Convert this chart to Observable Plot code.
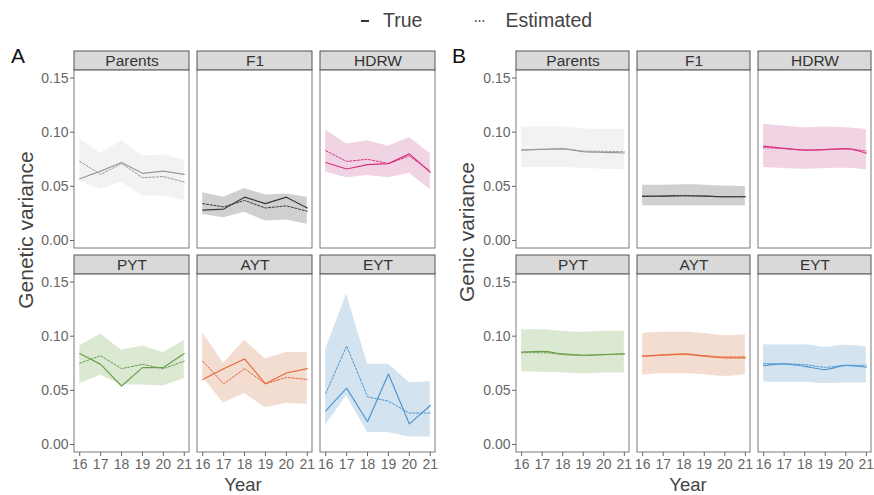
<!DOCTYPE html>
<html><head><meta charset="utf-8">
<script src="https://cdn.jsdelivr.net/npm/d3@7"></script>
<script src="https://cdn.jsdelivr.net/npm/@observablehq/plot@0.6"></script>
<style>
body{margin:0;width:874px;height:495px;overflow:hidden;background:#fff;font-family:"Liberation Sans",Arial,Helvetica,sans-serif;position:relative}
.abs{position:absolute;white-space:nowrap;line-height:1;z-index:2}
.chart{position:absolute;top:40px;z-index:1}
</style></head><body>
<div id="A" class="chart" style="left:0px"></div>
<div id="B" class="chart" style="left:440px"></div>
<div class="abs" style="left:358px;top:11px;font-size:19.5px;color:#444;display:flex;align-items:center">
  <svg width="12" height="6"><line x1="3" x2="11" y1="3" y2="3" stroke="#333" stroke-width="2"/></svg>
  <span style="margin-left:13px">True</span>
  <svg width="14" height="6" style="margin-left:52px"><line x1="1" x2="12" y1="3" y2="3" stroke="#333" stroke-width="1.3" stroke-dasharray="1.6,2.2"/></svg>
  <span style="margin-left:17px">Estimated</span>
</div>
<div class="abs" style="left:11px;top:45px;font-size:21px;color:#111">A</div>
<div class="abs" style="left:452px;top:45px;font-size:21px;color:#111">B</div>
<div class="abs" style="left:25px;top:230px;font-size:21px;color:#444;transform:translate(-50%,-50%) rotate(-90deg)">Genetic variance</div>
<div class="abs" style="left:466px;top:232px;font-size:21px;color:#444;transform:translate(-50%,-50%) rotate(-90deg)">Genic variance</div>
<div class="abs" style="left:243px;top:485px;font-size:18.5px;color:#444;transform:translate(-50%,-50%)">Year</div>
<div class="abs" style="left:688px;top:485px;font-size:18.5px;color:#444;transform:translate(-50%,-50%)">Year</div>
<script>
const years = [16, 17, 18, 19, 20, 21];
const stages = ["Parents", "F1", "HDRW", "PYT", "AYT", "EYT"];
const lineColors = ["#9a9a9a", "#3a3a3a", "#d8327f", "#6b9f4b", "#e8693a", "#4f97d3"];
const bandColors = ["#f2f2f2", "#d0d0d0", "#f1d4e4", "#dbe9d2", "#f3dcd0", "#d3e3ef"];
const yTicks = [0, 0.05, 0.10, 0.15];

// Panel A: genetic variance
const geneticTrue = [
  [0.057, 0.064, 0.072, 0.062, 0.064, 0.061],
  [0.028, 0.029, 0.040, 0.034, 0.040, 0.030],
  [0.072, 0.066, 0.070, 0.071, 0.080, 0.063],
  [0.084, 0.074, 0.054, 0.071, 0.071, 0.084],
  [0.060, 0.070, 0.079, 0.056, 0.066, 0.070],
  [0.031, 0.052, 0.021, 0.065, 0.019, 0.036]
];
const geneticEst = [
  [0.073, 0.061, 0.071, 0.058, 0.059, 0.054],
  [0.034, 0.031, 0.037, 0.030, 0.032, 0.027],
  [0.083, 0.073, 0.075, 0.071, 0.078, 0.064],
  [0.075, 0.082, 0.070, 0.074, 0.070, 0.077],
  [0.077, 0.056, 0.070, 0.056, 0.062, 0.060],
  [0.047, 0.091, 0.044, 0.040, 0.029, 0.029]
];
const geneticLo = [
  [0.055, 0.047, 0.054, 0.041, 0.041, 0.037],
  [0.024, 0.021, 0.026, 0.018, 0.019, 0.015],
  [0.063, 0.058, 0.060, 0.058, 0.062, 0.047],
  [0.056, 0.064, 0.055, 0.055, 0.054, 0.061],
  [0.062, 0.038, 0.047, 0.034, 0.038, 0.037],
  [0.018, 0.045, 0.011, 0.011, 0.007, 0.007]
];
const geneticHi = [
  [0.094, 0.080, 0.092, 0.078, 0.079, 0.074],
  [0.044, 0.040, 0.048, 0.042, 0.043, 0.040],
  [0.102, 0.089, 0.092, 0.087, 0.095, 0.080],
  [0.091, 0.102, 0.087, 0.091, 0.085, 0.096],
  [0.103, 0.075, 0.096, 0.079, 0.085, 0.085],
  [0.088, 0.139, 0.074, 0.074, 0.057, 0.058]
];

// Panel B: genic variance
const genicTrue = [
  [0.0835, 0.0842, 0.0848, 0.0820, 0.0814, 0.0808],
  [0.0407, 0.0410, 0.0413, 0.0410, 0.0404, 0.0404],
  [0.0872, 0.0851, 0.0835, 0.0839, 0.0848, 0.0805],
  [0.0854, 0.0860, 0.0836, 0.0824, 0.0830, 0.0836],
  [0.0815, 0.0827, 0.0836, 0.0815, 0.0800, 0.0800],
  [0.0728, 0.0744, 0.0722, 0.0692, 0.0731, 0.0713]
];
const genicEst = [
  [0.0835, 0.0842, 0.0842, 0.0826, 0.0823, 0.0820],
  [0.0410, 0.0410, 0.0413, 0.0410, 0.0404, 0.0404],
  [0.0857, 0.0848, 0.0835, 0.0839, 0.0845, 0.0826],
  [0.0848, 0.0848, 0.0830, 0.0824, 0.0830, 0.0836],
  [0.0815, 0.0824, 0.0830, 0.0821, 0.0809, 0.0809],
  [0.0747, 0.0744, 0.0737, 0.0713, 0.0731, 0.0731]
];
const genicLo = [
  [0.0673, 0.0673, 0.0673, 0.0664, 0.0658, 0.0652],
  [0.0321, 0.0321, 0.0321, 0.0321, 0.0321, 0.0321],
  [0.0673, 0.0664, 0.0658, 0.0664, 0.0667, 0.0652],
  [0.0670, 0.0667, 0.0660, 0.0652, 0.0660, 0.0660],
  [0.0639, 0.0652, 0.0652, 0.0645, 0.0630, 0.0645],
  [0.0578, 0.0575, 0.0575, 0.0562, 0.0568, 0.0568]
];
const genicHi = [
  [0.1050, 0.1050, 0.1047, 0.1030, 0.1028, 0.1025],
  [0.0511, 0.0511, 0.0514, 0.0511, 0.0502, 0.0499],
  [0.1071, 0.1056, 0.1040, 0.1047, 0.1040, 0.1025],
  [0.1060, 0.1060, 0.1045, 0.1036, 0.1045, 0.1045],
  [0.1024, 0.1036, 0.1036, 0.1024, 0.1005, 0.1014],
  [0.0922, 0.0919, 0.0922, 0.0898, 0.0916, 0.0900]
];

const xDomain = [15.75, 21.25];
const yMin = -0.0074, yPanelTop = 0.1571, yStripTop = 0.1745;
const font = '"Liberation Sans", Arial, Helvetica, sans-serif';

const panels = stages.map((s, i) => ({stage: s, idx: i, col: i % 3, row: Math.floor(i / 3)}));

function rowsFor(tr, es, lo, hi) {
  const out = [];
  stages.forEach((s, i) => years.forEach((y, j) => out.push({
    stage: s, idx: i, col: i % 3, row: Math.floor(i / 3), year: y,
    tru: tr[i][j], est: es[i][j], lo: lo[i][j], hi: hi[i][j]
  })));
  return out;
}

function chart(rows, opts) {
  const marks = [];
  stages.forEach((s, i) => {
    const d = rows.filter(r => r.idx === i);
    marks.push(Plot.areaY(d, {x: "year", y1: "lo", y2: "hi", fx: "col", fy: "row", fill: bandColors[i], curve: opts.curve}));
  });
  stages.forEach((s, i) => {
    const d = rows.filter(r => r.idx === i);
    marks.push(Plot.lineY(d, {x: "year", y: "est", fx: "col", fy: "row", stroke: lineColors[i], strokeWidth: 1, strokeDasharray: "2.2,1.6", curve: opts.curve}));
    marks.push(Plot.lineY(d, {x: "year", y: "tru", fx: "col", fy: "row", stroke: lineColors[i], strokeWidth: 1.2, curve: opts.curve}));
  });
  marks.push(Plot.rect(panels, {fx: "col", fy: "row", x1: () => xDomain[0], x2: () => xDomain[1], y1: () => yMin, y2: () => yPanelTop, fill: "none", stroke: "#7a7a7a", strokeWidth: 1}));
  marks.push(Plot.rect(panels, {fx: "col", fy: "row", x1: () => xDomain[0], x2: () => xDomain[1], y1: () => yPanelTop, y2: () => yStripTop, fill: "#d9d9d9", stroke: "#555", strokeWidth: 1}));
  marks.push(Plot.text(panels, {fx: "col", fy: "row", x: () => (xDomain[0] + xDomain[1]) / 2, y: () => (yPanelTop + yStripTop) / 2, text: "stage", fill: "#333", fontSize: 15.5}));
  marks.push(Plot.axisY({ticks: yTicks, tickFormat: d3.format(".2f"), tickSize: 4, tickPadding: 2, fontSize: 14}));
  marks.push(Plot.axisX({ticks: years, tickFormat: d => String(d), tickSize: 4, tickPadding: 3, fontSize: 14}));
  return Plot.plot({
    width: opts.width, height: 455,
    marginLeft: opts.marginLeft, marginRight: opts.marginRight, marginTop: 10, marginBottom: 42,
    x: {domain: xDomain, label: null},
    y: {domain: [yMin, yStripTop], label: null},
    fx: {domain: [0, 1, 2], axis: null, paddingInner: 0.0645, paddingOuter: 0},
    fy: {domain: [0, 1], axis: null, paddingInner: 0.034, paddingOuter: 0},
    style: {fontFamily: font, fontSize: "14px", color: "#666", background: "white", overflow: "visible"},
    marks
  });
}

document.getElementById("A").appendChild(chart(rowsFor(geneticTrue, geneticEst, geneticLo, geneticHi), {width: 440, marginLeft: 73, marginRight: 3, curve: "linear"}));
document.getElementById("B").appendChild(chart(rowsFor(genicTrue, genicEst, genicLo, genicHi), {width: 434, marginLeft: 75, marginRight: 1, curve: "monotone-x"}));
</script>
</body></html>
